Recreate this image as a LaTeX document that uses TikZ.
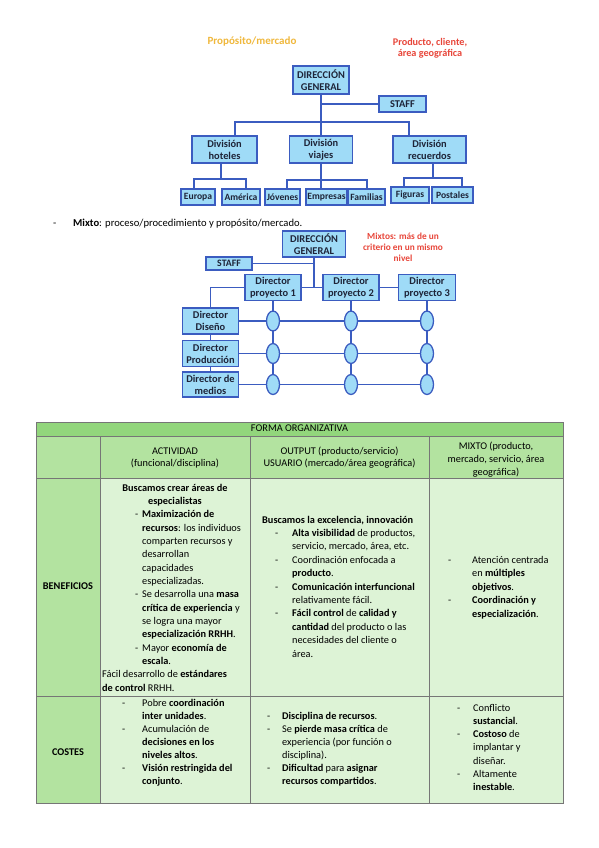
\documentclass[tikz,border=0pt]{standalone}
\usepackage{fontspec}
\setmainfont{Carlito}
\usetikzlibrary{shapes.geometric}
\definecolor{boxfill}{HTML}{9FDBF7}
\definecolor{boxline}{HTML}{3B5CC0}
\definecolor{hdrA}{HTML}{92D67C}
\definecolor{hdrB}{HTML}{B3E3A0}
\definecolor{bodyC}{HTML}{DDF3D6}
\definecolor{gridC}{HTML}{767676}
\definecolor{goldC}{HTML}{F0B83C}
\definecolor{redC}{HTML}{E8463A}
\definecolor{navyT}{HTML}{1E2438}
\newcommand\tfs[1]{\fontsize{10.3}{#1}\selectfont}
\begin{document}
\begin{tikzpicture}[x=1pt,y=-1pt,
  org/.style n args={2}{draw=boxline, fill=boxfill, line width=1.5pt, inner sep=0pt, minimum width=#1, minimum height=#2, align=center, text=navyT, font=\fontsize{10.4}{11.8}\selectfont\bfseries},
  sorg/.style n args={2}{org={#1}{#2}, font=\fontsize{9.6}{11}\selectfont\bfseries},
  conn/.style={draw=boxline, line width=1.5pt},
  ell/.style={ellipse, draw=boxline, fill=boxfill, line width=1.3pt, minimum width=13pt, minimum height=20pt, inner sep=0pt},
  txt/.style={inner sep=0pt, anchor=base west},
  ctxt/.style={inner sep=0pt, anchor=base},
  gridl/.style={draw=gridC, line width=0.8pt}]
\useasboundingbox (0,0) rectangle (599,848);
\fill[white] (0,0) rectangle (599,848);

% ---------- top chart ----------
\node[ctxt, font=\fontsize{11}{12}\selectfont\bfseries, text=goldC] (t1) at (252,44.5) {Propósito/mercado};
\node[ctxt, font=\fontsize{10.2}{11.5}\selectfont\bfseries, text=redC] (t2) at (430,45.5) {\begin{tabular}[t]{@{}c@{}}Producto, cliente,\\área geográfica\end{tabular}};

\node[org={56pt}{28pt}] (dg) at (321,80) {DIRECCIÓN\\GENERAL};
\node[org={47pt}{16pt}] (sta) at (402.5,104) {STAFF};
\node[org={65pt}{27pt}] (hot) at (224.5,149.5) {División\\hoteles};
\node[org={63pt}{27pt}] (vj) at (321,149.5) {División\\viajes};
\node[org={73pt}{27pt}] (rec) at (429.5,149.5) {División\\recuerdos};
\node[sorg={34pt}{16pt}] (eur) at (198,197) {Europa};
\node[sorg={38pt}{16pt}] (ame) at (241,197) {América};
\node[sorg={35pt}{16pt}] (jov) at (282.5,197) {Jóvenes};
\node[sorg={41pt}{16pt}] (emp) at (326.5,197) {Empresas};
\node[sorg={37pt}{16pt}] (fam) at (366.5,197) {Familias};
\node[sorg={38pt}{16pt}] (fig) at (410,195) {Figuras};
\node[sorg={41pt}{16pt}] (pos) at (452.5,195) {Postales};

\coordinate (b1) at (235,122); \coordinate (b2) at (409,122);
\coordinate (hj) at (221,179); \coordinate (hl) at (194,179); \coordinate (hr) at (246,179);
\coordinate (vl) at (287,180); \coordinate (vr) at (367,180);
\coordinate (rj) at (433,178); \coordinate (rl) at (404,178); \coordinate (rr) at (462,178);

\draw[conn] (dg.south) -- (vj.north);
\draw[conn] (dg.south |- sta.west) -- (sta.west);
\draw[conn] (hot.north -| b1) |- (b2) -- (rec.north -| b2);
\draw[conn] (hot.south -| hj) -- (hj);
\draw[conn] (eur.north -| hl) |- (hr) -- (ame.north -| hr);
\draw[conn] (vj.south) -- (emp.north -| vj.south);
\draw[conn] (jov.north -| vl) |- (vr) -- (fam.north -| vr);
\draw[conn] (rec.south -| rj) -- (rj);
\draw[conn] (fig.north -| rl) |- (rr) -- (pos.north -| rr);

% ---------- Mixto line ----------
\node[txt, font=\fontsize{10.6}{13}\selectfont] (md) at (53,226.5) {-};
\node[txt, font=\fontsize{10.6}{13}\selectfont] (mt) at (73,226.5) {\textbf{Mixto}: proceso/procedimiento y propósito/mercado.};

% ---------- mixed chart ----------
\node[ctxt, font=\fontsize{9.3}{11}\selectfont\bfseries, text=redC] (t3) at (403,239.5) {\begin{tabular}[t]{@{}c@{}}Mixtos: más de un\\criterio en un mismo\\nivel\end{tabular}};
\node[org={63pt}{26pt}] (dg2) at (314,244) {DIRECCIÓN\\GENERAL};
\node[org={46pt}{13pt}, font=\fontsize{9.8}{11}\selectfont\bfseries] (st2) at (229,263.5) {STAFF};
\node[org={56pt}{26pt}] (dp1) at (273,287.5) {Director\\proyecto 1};
\node[org={56pt}{26pt}] (dp2) at (351,287.5) {Director\\proyecto 2};
\node[org={57pt}{26pt}] (dp3) at (427,287.5) {Director\\proyecto 3};
\node[org={56pt}{26pt}] (dd) at (210.5,321) {Director\\Diseño};
\node[org={56pt}{26pt}] (dpr) at (210.5,353.5) {Director\\Producción};
\node[org={56pt}{25pt}] (dm) at (210.5,384.5) {Director de\\medios};

\coordinate (c11) at (273,321);   \coordinate (c12) at (351,321);   \coordinate (c13) at (427,321);
\coordinate (c21) at (273,353.5); \coordinate (c22) at (351,353.5); \coordinate (c23) at (427,353.5);
\coordinate (c31) at (273,384.5); \coordinate (c32) at (351,384.5); \coordinate (c33) at (427,384.5);

\draw[conn] (dg2.south) -- (dg2.south |- dp1.east);
\draw[conn] (st2.east) -- (st2.east -| dg2.south);
\draw[conn] (dp1.east) -- (dp2.west);
\draw[conn] (dp2.east) -- (dp3.west);
\draw[conn] (dp1.west) -| (dd.north);
\draw[conn] (dd.south) -- (dpr.north);
\draw[conn] (dpr.south) -- (dm.north);
\draw[conn] (dp1.south) -- (c31);
\draw[conn] (dp2.south) -- (c32);
\draw[conn] (dp3.south) -- (c33);
\draw[conn] (dd.east) -- (c13);
\draw[conn] (dpr.east) -- (c23);
\draw[conn] (dm.east) -- (c33);
\foreach \c in {c11,c12,c13,c21,c22,c23,c31,c32,c33}{\node[ell] (e\c) at (\c) {};}

% ---------- table ----------
\fill[hdrA] (36,422) rectangle (563,436);
\fill[hdrB] (36,436) rectangle (563,478);
\fill[hdrB] (36,478) rectangle (100,803);
\fill[bodyC] (100,478) rectangle (563,803);
\draw[gridl] (36,422) rectangle (563,803);
\draw[gridl] (36,436) -- (563,436);
\draw[gridl] (36,478) -- (563,478);
\draw[gridl] (36,696) -- (563,696);
\draw[gridl] (100,436) -- (100,803);
\draw[gridl] (250,436) -- (250,803);
\draw[gridl] (429,436) -- (429,803);

\node[ctxt, font=\tfs{12}] (h0) at (299.5,431.5) {FORMA ORGANIZATIVA};
\node[ctxt, font=\tfs{12}] (h1) at (175,454.5) {\begin{tabular}[t]{@{}c@{}}ACTIVIDAD\\(funcional/disciplina)\end{tabular}};
\node[ctxt, font=\tfs{12}] (h2) at (339.5,454.5) {\begin{tabular}[t]{@{}c@{}}OUTPUT (producto/servicio)\\USUARIO (mercado/área geográfica)\end{tabular}};
\node[ctxt, font=\tfs{13}] (h3) at (496,449.5) {\begin{tabular}[t]{@{}c@{}}MIXTO (producto,\\mercado, servicio, área\\geográfica)\end{tabular}};
\node[ctxt, font=\tfs{12}\bfseries] (r1) at (68,589.5) {BENEFICIOS};
\node[ctxt, font=\tfs{12}\bfseries] (r2) at (68,755.5) {COSTES};

% beneficios / actividad
\node[ctxt, font=\tfs{13.33}] (a1) at (175,491) {\begin{tabular}[t]{@{}c@{}}\textbf{Buscamos crear áreas de}\\\textbf{especialistas}\end{tabular}};
\node[txt, font=\tfs{13.33}] (a2) at (135,517.7) {\begin{tabular}[t]{@{}p{7pt}@{}l@{}}
-&\textbf{Maximización de}\\
&\textbf{recursos}: los individuos\\
&comparten recursos y\\
&desarrollan\\
&capacidades\\
&especializadas.\\
-&Se desarrolla una \textbf{masa}\\
&\textbf{crítica de experiencia} y\\
&se logra una mayor\\
&\textbf{especialización RRHH}.\\
-&Mayor \textbf{economía de}\\
&\textbf{escala}.
\end{tabular}};
\node[txt, font=\tfs{13.33}] (a3) at (102,677.7) {\begin{tabular}[t]{@{}l@{}}Fácil desarrollo de \textbf{estándares}\\\textbf{de control} RRHH.\end{tabular}};

% beneficios / output
\node[txt, font=\tfs{13.4}] (o1) at (262,523) {\textbf{Buscamos la excelencia, innovación}};
\node[txt, font=\tfs{13.4}] (o2) at (275,536.4) {\begin{tabular}[t]{@{}p{17pt}@{}l@{}}
-&\textbf{Alta visibilidad} de productos,\\
&servicio, mercado, área, etc.\\
-&Coordinación enfocada a\\
&\textbf{producto}.\\
-&\textbf{Comunicación interfuncional}\\
&relativamente fácil.\\
-&\textbf{Fácil control} de \textbf{calidad y}\\
&\textbf{cantidad} del producto o las\\
&necesidades del cliente o\\
&área.
\end{tabular}};

% beneficios / mixto
\node[txt, font=\tfs{13.5}] (m1) at (448,563) {\begin{tabular}[t]{@{}p{24pt}@{}l@{}}
-&Atención centrada\\
&en \textbf{múltiples}\\
&\textbf{objetivos}.\\
-&\textbf{Coordinación y}\\
&\textbf{especialización}.
\end{tabular}};

% costes / actividad
\node[txt, font=\tfs{13}] (ca) at (122,706) {\begin{tabular}[t]{@{}p{20pt}@{}l@{}}
-&Pobre \textbf{coordinación}\\
&\textbf{inter unidades}.\\
-&Acumulación de\\
&\textbf{decisiones en los}\\
&\textbf{niveles altos}.\\
-&\textbf{Visión restringida del}\\
&\textbf{conjunto}.
\end{tabular}};

% costes / output
\node[txt, font=\tfs{13}] (co) at (267,719) {\begin{tabular}[t]{@{}p{15pt}@{}l@{}}
-&\textbf{Disciplina de recursos}.\\
-&Se \textbf{pierde masa crítica} de\\
&experiencia (por función o\\
&disciplina).\\
-&\textbf{Dificultad} para \textbf{asignar}\\
&\textbf{recursos compartidos}.
\end{tabular}};

% costes / mixto
\node[txt, font=\tfs{13.33}] (cm) at (457,711) {\begin{tabular}[t]{@{}p{16pt}@{}l@{}}
-&Conflicto\\
&\textbf{sustancial}.\\
-&\textbf{Costoso} de\\
&implantar y\\
&diseñar.\\
-&Altamente\\
&\textbf{inestable}.
\end{tabular}};
\end{tikzpicture}
\end{document}
